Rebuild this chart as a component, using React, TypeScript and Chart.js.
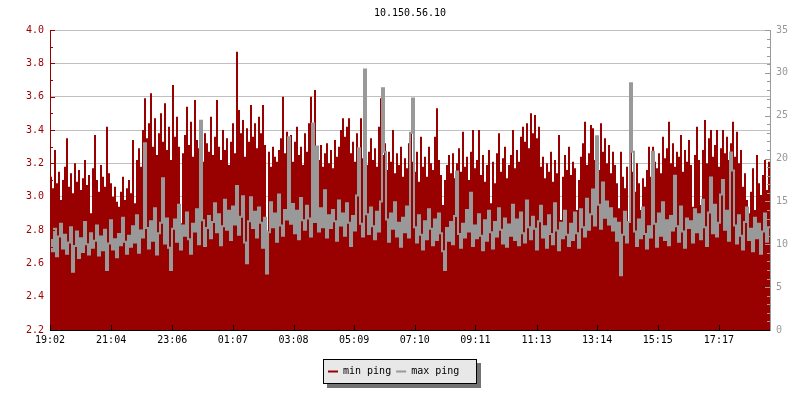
import { useEffect, useRef } from "react";
import { Chart, registerables } from "chart.js";

Chart.register(...registerables);

const TITLE = "10.150.56.10";
const seriesNames = ["min ping", "max ping"];
const tickLabels = ["19:02", "21:04", "23:06", "01:07", "03:08", "05:09", "07:10", "09:11", "11:13", "13:14", "15:15", "17:17"];
const tickMinutes = [0, 122, 244, 365, 486, 607, 728, 849, 971, 1092, 1213, 1335];
const SPAN_MINUTES = 1437;
const leftTicks = [2.2, 2.4, 2.6, 2.8, 3.0, 3.2, 3.4, 3.6, 3.8, 4.0];
const rightTicks = [0, 5, 10, 15, 20, 25, 30, 35];

const minPing = [
  3.12, 3.05, 3.28, 3.08, 3.15, 2.98, 3.10, 3.18, 3.35, 3.06, 3.14, 3.02, 3.20, 3.09, 3.16, 3.04, 3.11, 3.22, 3.07, 3.13,
  2.90, 3.17, 3.37, 3.10, 3.03, 3.19, 3.12, 3.06, 3.42, 3.14, 3.08, 3.00, 3.06, 2.97, 2.94, 3.03, 3.12, 2.98, 3.05, 3.10,
  3.02, 3.34, 2.96, 3.22, 3.29, 3.18, 3.40, 3.59, 3.35, 3.44, 3.62, 3.30, 3.47, 3.25, 3.38, 3.50, 3.33, 3.56, 3.28, 3.42,
  3.22, 3.67, 3.36, 3.48, 3.30, 2.84, 3.26, 3.37, 3.54, 3.31, 3.45, 3.24, 3.58, 3.34, 3.29, 3.43, 3.21, 3.38, 3.32, 3.27,
  3.48, 3.25, 3.36, 3.58, 3.30, 3.22, 3.40, 3.28, 3.35, 3.19, 3.33, 3.44, 3.26, 3.87, 3.52, 3.38, 3.46, 3.24, 3.41, 3.33,
  3.55, 3.36, 3.44, 3.29, 3.48, 3.38, 3.55, 3.31, 2.73, 3.27, 3.18, 3.30, 3.24, 3.21, 3.28, 3.35, 3.60, 3.26, 3.39, 3.23,
  3.37, 3.21, 3.33, 3.42, 3.25, 3.30, 3.19, 3.38, 3.27, 3.44, 3.60, 3.35, 3.64, 3.29, 3.22, 3.31, 3.18, 3.26, 3.32, 3.20,
  3.28, 3.17, 3.34, 3.24, 3.30, 3.40, 3.47, 3.36, 3.42, 3.47, 3.26, 3.33, 3.21, 3.38, 3.15, 3.47, 3.23, 3.31, 3.19, 3.27,
  3.35, 3.22, 3.29, 3.18, 3.42, 3.59, 3.25, 3.32, 3.16, 3.27, 3.21, 3.40, 3.14, 3.26, 3.19, 3.30, 3.12, 3.23, 3.17, 3.32,
  3.38, 3.21, 3.15, 3.27, 3.09, 3.36, 3.18, 3.24, 3.12, 3.30, 3.20, 3.16, 3.36, 3.53, 3.22, 3.13, 2.95, 3.10, 3.19, 3.25,
  3.14, 3.26, 3.11, 3.20, 3.29, 3.15, 3.39, 3.18, 3.24, 3.10, 3.27, 3.40, 3.17, 3.22, 3.40, 3.13, 3.25, 3.09, 3.19, 3.28,
  2.96, 3.21, 3.08, 3.26, 3.38, 3.15, 3.23, 3.30, 3.11, 3.19, 3.25, 3.40, 3.17, 3.28, 3.21, 3.36, 3.42, 3.33, 3.44, 3.29,
  3.50, 3.38, 3.49, 3.35, 3.42, 3.18, 3.24, 3.11, 3.20, 3.15, 3.27, 3.09, 3.22, 3.14, 3.37, 2.86, 3.12, 3.25, 3.16, 3.30,
  3.13, 3.21, 3.17, 2.92, 3.10, 3.24, 3.32, 3.45, 3.19, 3.26, 3.43, 3.41, 3.22, 3.30, 3.16, 3.44, 3.27, 3.35, 3.20, 3.31,
  3.14, 3.27, 3.19, 3.08, 2.93, 3.27, 3.12, 3.05, 3.18, 2.85, 3.27, 3.15, 3.03, 3.20, 3.08, 2.92, 3.11, 3.06, 3.16, 3.30,
  3.12, 3.30, 3.21, 3.17, 3.26, 3.14, 3.36, 3.23, 3.29, 3.45, 3.20, 3.32, 3.18, 3.27, 3.24, 3.37, 3.15, 3.28, 3.21, 3.34,
  3.19, 2.94, 3.25, 3.42, 3.22, 2.95, 3.28, 3.46, 3.20, 3.35, 3.40, 3.24, 3.31, 3.40, 3.18, 3.29, 3.40, 3.26, 3.36, 3.22,
  3.32, 3.45, 3.24, 3.39, 3.20, 3.28, 3.06, 3.14, 2.98, 2.90, 3.03, 3.17, 2.92, 3.25, 3.08, 3.01, 3.13, 3.22, 3.04, 3.21,
];

const maxPing = [
  10.5, 9.2, 11.8, 8.6, 10.9, 12.4, 9.5, 11.1, 8.9, 10.2, 12.0, 6.8, 9.8, 11.5, 8.4, 10.7, 9.1, 12.6, 10.0, 8.8,
  11.3, 9.6, 10.4, 12.2, 8.7, 10.9, 9.3, 11.7, 7.0, 10.1, 12.8, 9.4, 10.6, 8.5, 11.2, 9.9, 13.1, 10.3, 8.9, 11.0,
  9.7, 12.1, 10.2, 13.4, 9.0, 11.6, 10.8, 21.8, 11.9, 9.5, 12.7, 10.4, 14.2, 8.8, 11.3, 12.5, 17.7, 10.1, 13.0, 9.6,
  7.0, 11.8, 12.9, 10.3, 14.6, 9.4, 12.2, 11.0, 13.7, 10.6, 8.9, 12.4, 11.5, 14.1, 10.0, 24.4, 12.8, 9.8, 11.9, 13.3,
  10.7, 12.6, 14.8, 11.4, 13.5, 9.9, 12.1, 15.2, 11.7, 13.9, 10.5, 14.4, 12.3, 16.8, 11.1, 13.2, 15.6, 10.2, 7.8, 12.7,
  15.5, 11.9, 13.8, 10.8, 14.3, 12.5, 9.6, 13.1, 6.6, 11.4, 14.9, 12.0, 13.6, 10.3, 15.8, 12.2, 11.0, 14.0, 12.9, 22.5,
  12.4, 14.7, 11.3, 13.9, 10.6, 15.4, 12.8, 11.7, 14.5, 13.0, 10.9, 24.1, 12.6, 21.4, 11.5, 14.2, 12.0, 16.3, 10.8, 13.4,
  11.9, 14.0, 12.7, 10.4, 15.1, 12.2, 13.6, 11.0, 14.8, 12.5, 9.8, 13.3, 11.6, 15.7, 21.2, 12.4, 10.9, 30.4, 13.5, 11.2,
  14.3, 12.1, 10.6, 13.8, 11.5, 15.0, 28.2, 20.8, 12.9, 10.3, 13.6, 11.8, 14.9, 10.9, 12.5, 9.7, 13.1, 11.4, 14.4, 10.8,
  23.0, 27.0, 12.0, 10.2, 13.4, 11.1, 9.4, 12.7, 10.6, 14.1, 11.8, 9.9, 12.9, 10.5, 13.6, 11.3, 9.2, 7.0, 11.9, 10.4,
  12.6, 10.0, 13.3, 18.5, 11.2, 9.6, 12.4, 10.8, 14.0, 11.5, 16.0, 9.8, 12.2, 10.7, 13.5, 11.0, 9.3, 12.8, 10.4, 13.9,
  11.4, 9.5, 12.6, 10.9, 14.2, 11.7, 10.1, 13.0, 9.7, 12.3, 11.0, 14.6, 10.5, 12.9, 9.9, 13.7, 11.3, 10.2, 15.1, 12.0,
  10.6, 13.2, 11.8, 9.4, 12.7, 14.5, 10.8, 12.1, 9.6, 13.4, 11.2, 10.0, 14.8, 11.6, 9.3, 12.5, 10.7, 13.9, 11.1, 9.8,
  12.4, 10.5, 13.7, 11.3, 9.6, 14.1, 12.0, 10.9, 15.3, 11.7, 13.5, 16.4, 12.2, 22.6, 14.6, 11.8, 17.2, 13.1, 15.0, 12.3,
  14.2, 11.6, 13.0, 10.4, 12.5, 6.4, 11.1, 13.8, 10.2, 12.6, 28.8, 20.8, 11.5, 9.8, 12.9, 10.7, 14.3, 11.2, 9.5, 12.1,
  10.8, 20.8, 12.4, 9.7, 13.6, 11.0, 14.9, 10.5, 12.8, 9.9, 13.3, 11.6, 18.0, 12.1, 10.3, 14.4, 11.5, 9.6, 13.0, 11.9,
  12.7, 10.2, 14.1, 11.4, 13.5, 10.6, 15.2, 12.0, 9.8, 13.7, 17.8, 11.3, 14.6, 10.9, 12.5, 15.8, 17.5, 11.7, 13.9, 10.4,
  20.7, 18.6, 12.2, 10.1, 13.4, 11.0, 9.4, 12.6, 14.3, 10.5, 11.8, 9.2, 13.1, 10.7, 12.4, 8.9, 11.5, 13.6, 10.3, 12.0,
];

const RED = "#990000";
const GRAY = "#999999";
const GRID = "#c0c0c0";
const FONT = "DejaVu Sans Mono";

function toPoints(values: number[]) {
  const step = SPAN_MINUTES / values.length;
  const pts = values.map((v, i) => ({ x: i * step, y: v }));
  pts.push({ x: SPAN_MINUTES, y: values[values.length - 1] });
  return pts;
}

const framePlugin = {
  id: "rrdFrame",
  afterDatasetsDraw(chart: any) {
    const { ctx, chartArea, scales } = chart;
    const { left, right, top, bottom } = chartArea;
    const ys = scales.y;
    const y2 = scales.y2;
    const xs = scales.x;
    ctx.save();
    ctx.lineWidth = 1;

    // left axis (red) with ticks pointing inward
    ctx.strokeStyle = RED;
    ctx.beginPath();
    ctx.moveTo(left + 0.5, top);
    ctx.lineTo(left + 0.5, bottom);
    for (let t = 22; t <= 40; t++) {
      const py = Math.round(ys.getPixelForValue(t / 10)) + 0.5;
      const len = t % 2 === 0 ? 4 : 2;
      ctx.moveTo(left, py);
      ctx.lineTo(left + 1 + len, py);
    }
    ctx.stroke();

    // right axis (gray)
    ctx.strokeStyle = GRAY;
    ctx.beginPath();
    ctx.moveTo(right + 0.5, top);
    ctx.lineTo(right + 0.5, bottom + 1);
    for (let t = 0; t <= 35; t++) {
      const py = Math.round(y2.getPixelForValue(t)) + 0.5;
      const len = t % 5 === 0 ? 5 : 3;
      ctx.moveTo(right + 1, py);
      ctx.lineTo(right - len, py);
    }
    ctx.stroke();

    // bottom axis (black)
    ctx.strokeStyle = "#000000";
    ctx.beginPath();
    ctx.moveTo(left, bottom + 0.5);
    ctx.lineTo(right, bottom + 0.5);
    tickMinutes.forEach((m) => {
      const px = Math.round(xs.getPixelForValue(m)) + 0.5;
      ctx.moveTo(px, bottom);
      ctx.lineTo(px, bottom - 5);
    });
    ctx.stroke();
    ctx.restore();
  },
  afterDraw(chart: any) {
    const { ctx, chartArea } = chart;
    ctx.save();
    // title
    ctx.font = `10px "${FONT}"`;
    ctx.fillStyle = "#000000";
    ctx.textAlign = "center";
    ctx.textBaseline = "middle";
    ctx.fillText(TITLE, (chartArea.left + chartArea.right) / 2, 13);

    // legend box
    const lw = 153;
    const lh = 24;
    const lx = Math.round(chart.width / 2 - 77);
    const ly = 359;
    ctx.fillStyle = "#737373";
    ctx.fillRect(lx + 4, ly + 4, lw + 1, lh + 1);
    ctx.fillStyle = "#e8e8e8";
    ctx.fillRect(lx, ly, lw, lh);
    ctx.strokeStyle = "#000000";
    ctx.lineWidth = 1;
    ctx.strokeRect(lx + 0.5, ly + 0.5, lw, lh);

    const colors = [RED, GRAY];
    let cx = lx + 5;
    const cy = ly + 12;
    ctx.textAlign = "left";
    ctx.textBaseline = "middle";
    seriesNames.forEach((name, i) => {
      ctx.fillStyle = colors[i];
      ctx.fillRect(cx, cy - 0.5, 10, 2);
      cx += 15;
      ctx.fillStyle = "#000000";
      ctx.fillText(name, cx, cy);
      cx += ctx.measureText(name).width + 5;
    });
    ctx.restore();
  },
};

export default function App() {
  const canvasRef = useRef<HTMLCanvasElement | null>(null);

  useEffect(() => {
    const canvas = canvasRef.current;
    if (!canvas) return;
    const font = { family: FONT, size: 10 };
    const chart = new Chart(canvas, {
      type: "line",
      data: {
        datasets: [
          {
            label: seriesNames[0],
            data: toPoints(minPing),
            yAxisID: "y",
            stepped: true,
            fill: "start",
            backgroundColor: RED,
            borderColor: "rgba(0,0,0,0)",
            borderWidth: 1,
            pointRadius: 0,
            order: 2,
          },
          {
            label: seriesNames[1],
            data: toPoints(maxPing),
            yAxisID: "y2",
            stepped: true,
            fill: false,
            borderColor: GRAY,
            backgroundColor: GRAY,
            borderWidth: 2,
            borderJoinStyle: "miter",
            borderCapStyle: "butt",
            pointRadius: 0,
            order: 1,
          },
        ],
      },
      options: {
        animation: false,
        responsive: false,
        devicePixelRatio: 1,
        layout: { padding: { top: 30, left: 0, right: 0, bottom: 0 } },
        plugins: {
          legend: { display: false },
          title: { display: false },
          tooltip: { enabled: false },
        },
        scales: {
          x: {
            type: "linear",
            min: 0,
            max: SPAN_MINUTES,
            afterBuildTicks: (s: any) => {
              s.ticks = tickMinutes.map((v) => ({ value: v }));
            },
            afterFit: (s: any) => {
              s.height = 70;
            },
            grid: { display: false, drawTicks: false },
            border: { display: false },
            ticks: {
              callback: (_v: any, i: number) => tickLabels[i],
              color: "#000000",
              font,
              padding: 4,
              maxRotation: 0,
              autoSkip: false,
            },
          },
          y: {
            position: "left",
            min: 2.2,
            max: 4.0,
            afterBuildTicks: (s: any) => {
              s.ticks = leftTicks.map((v) => ({ value: v }));
            },
            afterFit: (s: any) => {
              s.width = 50;
            },
            grid: { color: GRID, drawTicks: false },
            border: { display: false },
            ticks: {
              callback: (v: any) => Number(v).toFixed(1),
              color: RED,
              font,
              padding: 6,
            },
          },
          y2: {
            position: "right",
            min: 0,
            max: 35,
            afterBuildTicks: (s: any) => {
              s.ticks = rightTicks.map((v) => ({ value: v }));
            },
            afterFit: (s: any) => {
              s.width = 30;
            },
            grid: { display: false, drawTicks: false },
            border: { display: false },
            ticks: {
              callback: (v: any) => String(v),
              color: GRAY,
              font,
              padding: 6,
            },
          },
        },
      } as any,
      plugins: [framePlugin],
    });
    return () => chart.destroy();
  }, []);

  return (
    <div style={{ position: "absolute", left: 0, top: 0, width: 800, height: 400, background: "#ffffff" }}>
      <canvas ref={canvasRef} width={800} height={400} />
    </div>
  );
}
